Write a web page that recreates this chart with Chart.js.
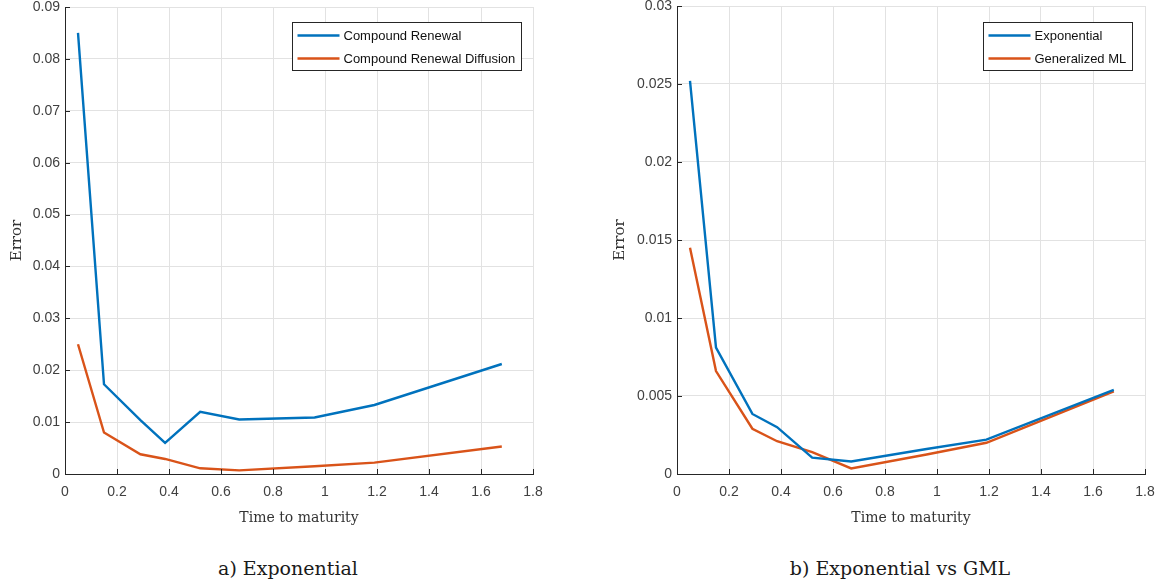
<!DOCTYPE html>
<html><head><meta charset="utf-8">
<script src="https://cdn.jsdelivr.net/npm/chart.js@4/dist/chart.umd.min.js"></script>
<style>
html,body{margin:0;padding:0;background:#fff;width:1161px;height:585px;overflow:hidden;}
canvas{position:absolute;top:0;}
.cap{position:absolute;top:557px;font-family:"DejaVu Serif";font-size:19px;color:#1a1a1a;transform:translateX(-50%);white-space:nowrap;}
</style></head><body>
<canvas id="c1" width="575" height="540" style="left:0"></canvas>
<canvas id="c2" width="576" height="540" style="left:585px"></canvas>
<div class="cap" style="left:288px">a) Exponential</div>
<div class="cap" style="left:900px">b) Exponential vs GML</div>
<script>
// ---- data ----
const timeToMaturity = [0.05, 0.15, 0.29, 0.385, 0.52, 0.67, 0.96, 1.19, 1.68];
const compoundRenewal = [0.085, 0.0173, 0.0104, 0.006, 0.012, 0.0105, 0.0109, 0.0133, 0.0212];
const compoundRenewalDiffusion = [0.025, 0.008, 0.0038, 0.0029, 0.0011, 0.0007, 0.0015, 0.0022, 0.0053];
const exponentialErr = [0.0252, 0.0081, 0.00385, 0.0030, 0.00105, 0.0008, 0.0016, 0.0022, 0.0054];
const generalizedML = [0.0145, 0.0066, 0.0029, 0.0021, 0.0014, 0.00036, 0.00125, 0.0020, 0.0053];
const xTickValues = [0, 0.2, 0.4, 0.6, 0.8, 1, 1.2, 1.4, 1.6, 1.8];
const xTickLabels = ['0', '0.2', '0.4', '0.6', '0.8', '1', '1.2', '1.4', '1.6', '1.8'];
const leftYTickValues = [0, 0.01, 0.02, 0.03, 0.04, 0.05, 0.06, 0.07, 0.08, 0.09];
const leftYTickLabels = ['0', '0.01', '0.02', '0.03', '0.04', '0.05', '0.06', '0.07', '0.08', '0.09'];
const rightYTickValues = [0, 0.005, 0.01, 0.015, 0.02, 0.025, 0.03];
const rightYTickLabels = ['0', '0.005', '0.01', '0.015', '0.02', '0.025', '0.03'];
const leftLabels = ['Compound Renewal', 'Compound Renewal Diffusion'];
const rightLabels = ['Exponential', 'Generalized ML'];
const xTitle = 'Time to maturity';
const yTitle = 'Error';

const BLUE = '#0072BD', ORANGE = '#D95319';
Chart.defaults.font.family = '"Liberation Sans", Arial, sans-serif';
Chart.defaults.font.size = 14;
Chart.defaults.color = '#404040';

const pts = (xs, ys) => xs.map((x, i) => ({x: x, y: ys[i]}));

const matlabDecor = {
  id: 'matlabDecor',
  afterDraw(chart, args, opts) {
    const {ctx, chartArea: a, scales: {x, y}} = chart;
    ctx.save();
    ctx.strokeStyle = '#262626';
    ctx.lineWidth = 1;
    ctx.beginPath();
    x.ticks.forEach(t => { const px = Math.round(x.getPixelForValue(t.value)) + 0.5; ctx.moveTo(px, a.bottom); ctx.lineTo(px, a.bottom - 5); });
    y.ticks.forEach(t => { const py = Math.round(y.getPixelForValue(t.value)) + 0.5; ctx.moveTo(a.left, py); ctx.lineTo(a.left + 5, py); });
    ctx.stroke();
    // legend box
    ctx.font = '13px "Liberation Sans", Arial, sans-serif';
    const ds = chart.data.datasets;
    let maxW = 0;
    ds.forEach(d => { maxW = Math.max(maxW, ctx.measureText(d.label).width); });
    const w = Math.round(5 + 42 + 4 + maxW + 6);
    const h = 48;
    const bx = Math.round(a.right - opts.inset - w) + 0.5;
    const by = Math.round(a.top + opts.top) + 0.5;
    ctx.fillStyle = '#fff';
    ctx.fillRect(bx, by, w, h);
    ctx.strokeStyle = '#262626';
    ctx.strokeRect(bx, by, w, h);
    ds.forEach((d, i) => {
      const cy = by + 13 + i * 23;
      ctx.strokeStyle = d.borderColor;
      ctx.lineWidth = 2.3;
      ctx.beginPath(); ctx.moveTo(bx + 5, cy); ctx.lineTo(bx + 47, cy); ctx.stroke();
      ctx.fillStyle = '#111';
      ctx.textBaseline = 'middle';
      ctx.textAlign = 'left';
      ctx.fillText(d.label, bx + 51, cy + 1);
    });
    ctx.restore();
  }
};

function makeChart(id, labels, s1, s2, yMax, yVals, yLabels, g) {
  return new Chart(document.getElementById(id), {
    type: 'line',
    data: {
      datasets: [
        {label: labels[0], data: pts(timeToMaturity, s1), borderColor: BLUE, backgroundColor: BLUE, borderWidth: 2.4, pointRadius: 0, tension: 0},
        {label: labels[1], data: pts(timeToMaturity, s2), borderColor: ORANGE, backgroundColor: ORANGE, borderWidth: 2.4, pointRadius: 0, tension: 0}
      ]
    },
    options: {
      responsive: false,
      animation: false,
      devicePixelRatio: 1,
      layout: {padding: {left: 0, top: g.padTop, right: g.padRight, bottom: 0}},
      plugins: {legend: {display: false}, tooltip: {enabled: false}, matlabDecor: {inset: g.legInset, top: g.legTop}},
      scales: {
        x: {
          type: 'linear', min: 0, max: 1.8,
          afterBuildTicks: s => { s.ticks = xTickValues.map(v => ({value: v})); },
          afterFit: s => { s.height = g.xHeight; s.paddingLeft = 0; s.paddingRight = 0; },
          ticks: {callback: (v, i) => xTickLabels[i], padding: 10, maxRotation: 0, autoSkip: false},
          grid: {color: '#e2e2e2', lineWidth: 1, drawTicks: false},
          border: {color: '#262626', width: 1},
          title: {display: true, text: xTitle, font: {family: '"DejaVu Serif", serif', size: 14}, color: '#333', padding: {top: 0, bottom: 13}}
        },
        y: {
          type: 'linear', min: 0, max: yMax,
          afterBuildTicks: s => { s.ticks = yVals.map(v => ({value: v})); },
          afterFit: s => { s.width = g.yWidth; s.paddingTop = 0; s.paddingBottom = 0; },
          ticks: {callback: (v, i) => yLabels[i], padding: 5, autoSkip: false},
          grid: {color: '#e2e2e2', lineWidth: 1, drawTicks: false},
          border: {color: '#262626', width: 1},
          title: {display: true, text: yTitle, font: {family: '"DejaVu Serif", serif', size: 15}, color: '#333', padding: {top: g.yTitlePad, bottom: 0}}
        }
      }
    },
    plugins: [matlabDecor]
  });
}

makeChart('c1', leftLabels, compoundRenewal, compoundRenewalDiffusion, 0.09, leftYTickValues, leftYTickLabels,
  {yWidth: 65, padRight: 42, padTop: 7, xHeight: 66, yTitlePad: 8, legInset: 12, legTop: 15});
makeChart('c2', rightLabels, exponentialErr, generalizedML, 0.03, rightYTickValues, rightYTickLabels,
  {yWidth: 92, padRight: 16, padTop: 6, xHeight: 66, yTitlePad: 26, legInset: 13, legTop: 16});
</script>
</body></html>
